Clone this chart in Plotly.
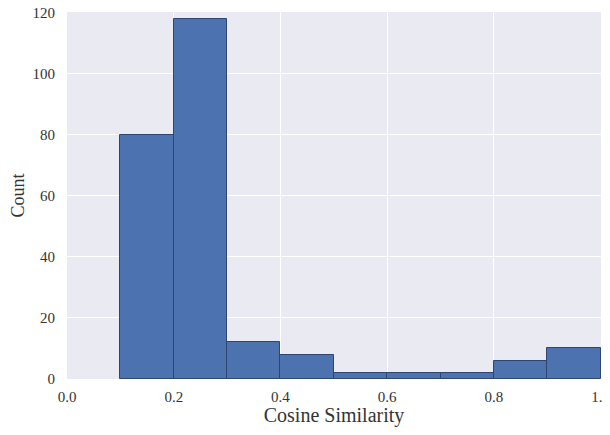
import plotly.graph_objects as go

# histogram bins (left edges) and counts
bin_starts = [0.1, 0.2, 0.3, 0.4, 0.5, 0.6, 0.7, 0.8, 0.9]
counts = [80, 118, 12, 8, 2, 2, 2, 6, 10]
bin_width = 0.1

x_ticks = [0.0, 0.2, 0.4, 0.6, 0.8, 1.0]
y_ticks = [0, 20, 40, 60, 80, 100, 120]

fig = go.Figure(go.Bar(
    x=[s + bin_width / 2 for s in bin_starts],
    y=counts,
    width=bin_width,
    marker=dict(color="#4c72b0", line=dict(color="#2d4570", width=1)),
))

# page body adds ~8px around the figure, so size/margins are compensated
font = "Liberation Serif, DejaVu Serif, serif"
fig.update_layout(
    width=600, height=419,
    margin=dict(l=59, r=7, t=4, b=48),
    paper_bgcolor="white",
    plot_bgcolor="#eaeaf2",
    font=dict(family=font, size=15, color="#333333"),
    showlegend=False,
    bargap=0,
)
fig.update_xaxes(
    range=[0, 1.0005], tickvals=x_ticks, ticktext=[f"{v:.1f}" for v in x_ticks],
    showgrid=True, gridcolor="white", gridwidth=1, zeroline=False,
    title=dict(text="Cosine Similarity", font=dict(size=20), standoff=6),
    ticks="outside", ticklen=4, tickcolor="rgba(0,0,0,0)",
    tickfont=dict(size=15), automargin=False, ticklabeloverflow="allow",
)
fig.update_yaxes(
    range=[0, 120.2], tickvals=y_ticks,
    showgrid=True, gridcolor="white", gridwidth=1, zeroline=False,
    title=dict(text="Count", font=dict(size=18), standoff=12),
    ticks="outside", ticklen=8, tickcolor="rgba(0,0,0,0)",
    tickfont=dict(size=15), automargin=False, ticklabeloverflow="allow",
)

fig.write_html("out.html")
